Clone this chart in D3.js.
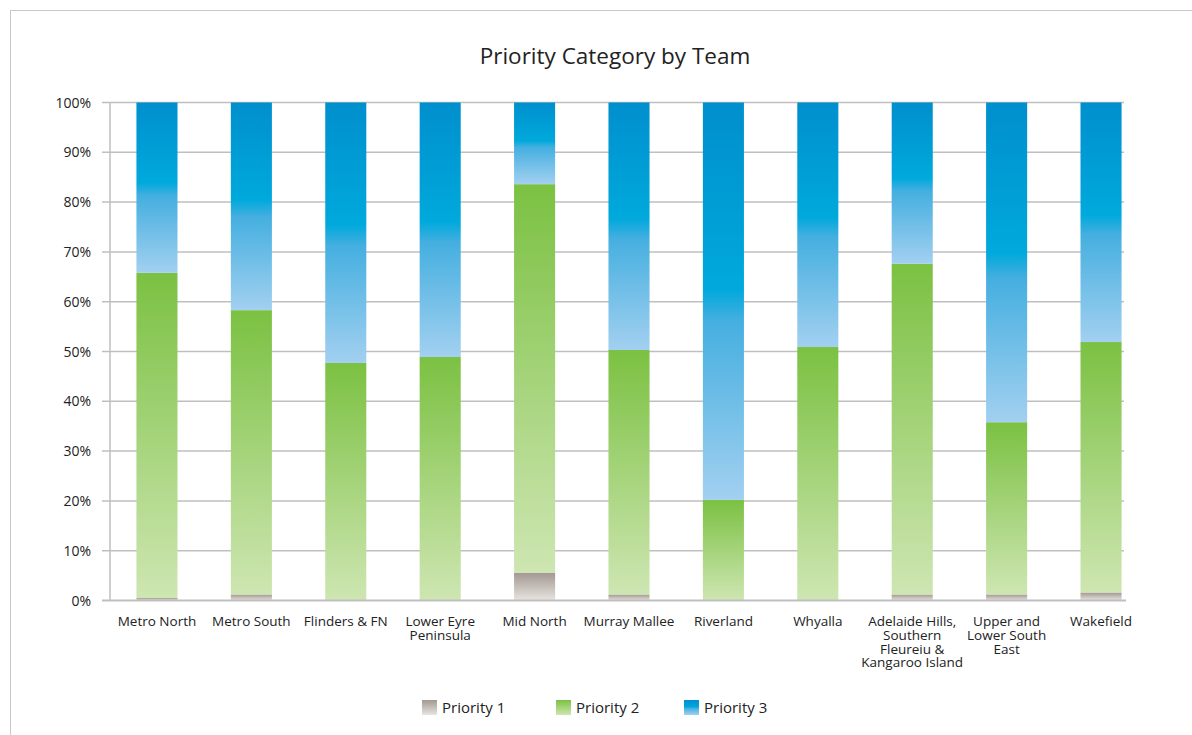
<!DOCTYPE html>
<html>
<head>
<meta charset="utf-8">
<script src="https://cdn.jsdelivr.net/npm/d3@7"></script>
<style>
  body { margin: 0; background: #fff; }
  text { font-family: "Open Sans", "Noto Sans", sans-serif; fill: #222; }
</style>
</head>
<body>
<script>
'use strict';

// team names on the x axis
const teams = ["Metro North", "Metro South", "Flinders & FN", "Lower Eyre Peninsula",
  "Mid North", "Murray Mallee", "Riverland", "Whyalla",
  "Adelaide Hills, Southern Fleureiu & Kangaroo Island",
  "Upper and Lower South East", "Wakefield"];

// how each axis label breaks into lines
const teamLines = {
  "Lower Eyre Peninsula": ["Lower Eyre", "Peninsula"],
  "Adelaide Hills, Southern Fleureiu & Kangaroo Island": ["Adelaide Hills,", "Southern", "Fleureiu &", "Kangaroo Island"],
  "Upper and Lower South East": ["Upper and", "Lower South", "East"]
};

// percentage share per team
const priority1 = [0.5, 1.2, 0, 0, 5.6, 1.2, 0, 0, 1.2, 1.2, 1.6];
const priority2 = [65.3, 57.1, 47.7, 48.9, 78.0, 49.1, 20.2, 50.9, 66.4, 34.6, 50.3];
const priority3 = [34.2, 41.7, 52.3, 51.1, 16.4, 49.7, 79.8, 49.1, 32.4, 64.2, 48.1];

const seriesNames = ["Priority 1", "Priority 2", "Priority 3"];
const yTicks = [0, 10, 20, 30, 40, 50, 60, 70, 80, 90, 100];

const width = 1192, height = 735;

const svg = d3.select("body").append("svg")
  .attr("width", width)
  .attr("height", height);

// gradient fills, one per series
const defs = svg.append("defs");
const gradStops = {
  "Priority 1": [[0, "#a29990"], [1, "#e8e4e0"]],
  "Priority 2": [[0, "#7bc142"], [1, "#cee6b2"]],
  "Priority 3": [[0, "#008fcd"], [0.47, "#00a9dc"], [0.55, "#45afe0"], [1, "#a2d0f0"]]
};
seriesNames.forEach((name, i) => {
  let g = defs.append("linearGradient")
    .attr("id", "grad" + i)
    .attr("x1", 0).attr("y1", 0)
    .attr("x2", 0).attr("y2", 1);
  gradStops[name].forEach(s => {
    g.append("stop").attr("offset", s[0]).attr("stop-color", s[1]);
  });
});

// outer frame (left and top edges only show)
svg.append("path")
  .attr("d", "M10.5," + height + "V10.5H" + width)
  .attr("fill", "none")
  .attr("stroke", "#c8c8c8")
  .attr("stroke-width", 1);

// title
svg.append("text")
  .attr("x", 615)
  .attr("y", 64)
  .attr("text-anchor", "middle")
  .style("font-size", "22.5px")
  .text("Priority Category by Team");

// scales
const x = d3.scaleBand()
  .domain(teams)
  .range([110, 1148])
  .paddingInner(0.565)
  .paddingOuter(0.28);

const y = d3.scaleLinear()
  .domain([0, 100])
  .range([600.5, 102.5]);

const plotRight = 1124;

// gridlines
svg.append("g")
  .selectAll("line")
  .data(yTicks.filter(d => d > 0))
  .enter()
  .append("line")
  .attr("x1", 102)
  .attr("x2", plotRight)
  .attr("y1", d => y(d))
  .attr("y2", d => y(d))
  .attr("stroke", "#bfbfbf")
  .attr("stroke-width", 1.5);

// y axis line
svg.append("line")
  .attr("x1", 110).attr("x2", 110)
  .attr("y1", y(100)).attr("y2", y(0))
  .attr("stroke", "#bfbfbf")
  .attr("stroke-width", 1.5);

// y tick labels
svg.append("g")
  .selectAll("text")
  .data(yTicks)
  .enter()
  .append("text")
  .attr("x", 91)
  .attr("y", d => y(d) + 5)
  .attr("text-anchor", "end")
  .style("font-size", "14px")
  .text(d => d + "%");

// stacked data
const rows = teams.map((t, i) => ({
  team: t,
  "Priority 1": priority1[i],
  "Priority 2": priority2[i],
  "Priority 3": priority3[i]
}));
const stacked = d3.stack().keys(seriesNames)(rows);

svg.append("g")
  .selectAll("g")
  .data(stacked)
  .enter()
  .append("g")
  .attr("fill", (d, i) => "url(#grad" + i + ")")
  .selectAll("rect")
  .data(d => d.filter(s => s[1] - s[0] > 0))
  .enter()
  .append("rect")
  .attr("x", d => x(d.data.team))
  .attr("width", x.bandwidth())
  .attr("y", d => y(d[1]))
  .attr("height", d => y(d[0]) - y(d[1]));

// x axis line
svg.append("line")
  .attr("x1", 102).attr("x2", plotRight + 2)
  .attr("y1", y(0)).attr("y2", y(0))
  .attr("stroke", "#bfbfbf")
  .attr("stroke-width", 2);

// x labels
const xLabels = svg.append("g")
  .selectAll("text")
  .data(teams)
  .enter()
  .append("text")
  .attr("x", d => x(d) + x.bandwidth() / 2)
  .attr("y", 626)
  .attr("text-anchor", "middle")
  .style("font-size", "13.5px");

xLabels.each(function (d) {
  let lines = teamLines[d] || [d];
  let el = d3.select(this);
  lines.forEach((ln, i) => {
    el.append("tspan")
      .attr("x", x(d) + x.bandwidth() / 2)
      .attr("dy", i === 0 ? 0 : 13.8)
      .text(ln);
  });
});

// legend
const legendX = [422, 556, 684];
const legend = svg.append("g")
  .selectAll("g")
  .data(seriesNames)
  .enter()
  .append("g")
  .attr("transform", (d, i) => "translate(" + legendX[i] + ",700)");

legend.append("rect")
  .attr("width", 15)
  .attr("height", 15)
  .attr("fill", (d, i) => "url(#grad" + i + ")");

legend.append("text")
  .attr("x", 20)
  .attr("y", 13)
  .style("font-size", "15px")
  .text(d => d);
</script>
</body>
</html>
